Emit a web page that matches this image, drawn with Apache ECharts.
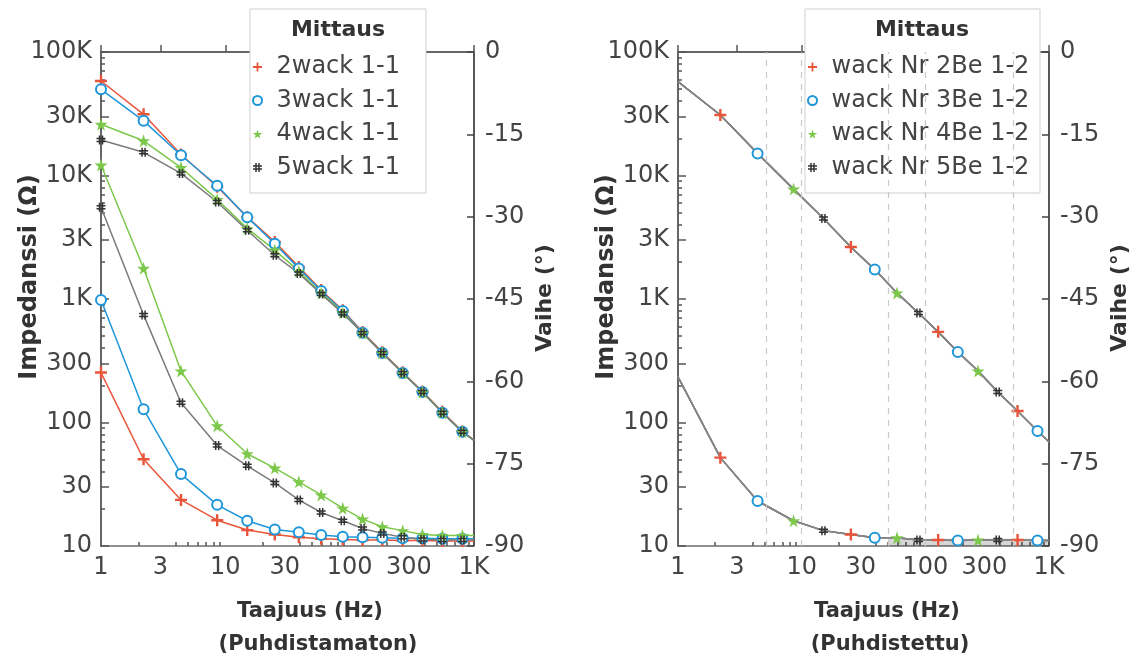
<!DOCTYPE html>
<html>
<head>
<meta charset="utf-8">
<script src="https://cdn.jsdelivr.net/npm/echarts@6/dist/echarts.min.js"></script>
<style>
  html, body { margin: 0; padding: 0; background: #fff; }
  #chart { width: 1145px; height: 662px; }
</style>
</head>
<body>
<div id="chart"></div>
<script>
// frequencies (Hz) shared by every measurement
const freq = [1, 2.2, 4.4, 8.6, 15, 25, 39, 59, 88, 127, 183, 267, 385, 557, 807, 1000]

// left panel: Puhdistamaton
const namesLeft = ['2wack 1-1', '3wack 1-1', '4wack 1-1', '5wack 1-1']
const impLeft2 = [58200, 31300, 14800, 8100, 4600, 2900, 1820, 1180, 810, 540, 370, 255, 178, 122, 84.5, 72]
const impLeft3 = [49900, 27700, 14600, 8260, 4600, 2800, 1770, 1160, 800, 532, 366, 252, 177, 120, 84, 71.8]
const impLeft4 = [26000, 19100, 11600, 6400, 3730, 2490, 1680, 1120, 775, 531, 366, 252, 177, 120, 84, 71.8]
const impLeft5 = [19400, 15400, 10400, 6100, 3600, 2260, 1610, 1100, 764, 531, 366, 252, 177, 120, 84, 71.8]
const phaseLeft2 = [-58.4, -74.2, -81.6, -85.3, -87.1, -87.9, -88.4, -88.7, -88.8, -88.9, -88.9, -89.0, -89.0, -89.1, -89.1, -89.1]
const phaseLeft3 = [-45.2, -65.1, -76.9, -82.5, -85.4, -87.0, -87.5, -88.0, -88.3, -88.4, -88.5, -88.6, -88.6, -88.7, -88.7, -88.7]
const phaseLeft4 = [-20.6, -39.4, -58.1, -68.1, -73.2, -75.8, -78.3, -80.7, -83.1, -85.1, -86.5, -87.2, -87.9, -88.1, -88.1, -88.1]
const phaseLeft5 = [-28.3, -47.9, -63.9, -71.7, -75.4, -78.5, -81.6, -83.9, -85.4, -86.8, -87.7, -88.4, -88.8, -88.9, -88.9, -88.9]

// right panel: Puhdistettu (all four measurements coincide)
const namesRight = ['wack Nr 2Be 1-2', 'wack Nr 3Be 1-2', 'wack Nr 4Be 1-2', 'wack Nr 5Be 1-2']
const impRight = [57500, 30900, 15100, 7760, 4490, 2640, 1730, 1120, 771, 542, 373, 261, 177, 124, 85.3, 69.5]
const phaseRight = [-59.2, -73.9, -81.8, -85.4, -87.2, -87.9, -88.5, -88.5, -88.9, -88.9, -89.0, -88.9, -88.9, -88.9, -89.0, -89.0]
// grey band at the bottom of the phase plot: [from Hz, to Hz], [top deg, bottom deg]
const bandFreq = [50, 1000]
const bandPhase = [-88.7, -90]
const refLines = [5.2, 10, 50, 100, 510]

// tick labels
const xLabels = [1, 3, 10, 30, 100, 300, 1000]
const yLabels = [10, 30, 100, 300, 1000, 3000, 10000, 30000, 100000]

const xMinor = []
;[1, 10, 100].forEach(d => [2, 4, 5, 6, 7, 8, 9].forEach(k => xMinor.push(d * k)))
const yMinor = []
;[10, 100, 1000, 10000].forEach(d => [2, 4, 5, 6, 7, 8, 9].forEach(k => yMinor.push(d * k)))

const RED = '#E9553B'
const BLUE = '#1E96DA'
const GREEN = '#7CC84A'
const DARK = '#333333'
const colors = [RED, BLUE, GREEN, DARK]
const lineColors = [RED, BLUE, GREEN, '#7a7a7a']

const PLUS = 'path://M4,0H6V4H10V6H6V10H4V6H0V4H4Z'
const STAR = 'path://M50,0L61,35L98,35L68,57L79,91L50,70L21,91L32,57L2,35L39,35Z'
const HASH = 'path://M3,0H5V3H7V0H9V3H12V5H9V7H12V9H9V12H7V9H5V12H3V9H0V7H3V5H0V3H3ZM5,5V7H7V5Z'
const shapes = [PLUS, 'emptyCircle', STAR, HASH]
const sizes = [12, 10, 13, 9]

const FONT = 'DejaVu Sans'
const fmt = v => v >= 1000 ? (v / 1000) + 'K' : String(v)
const pairs = (xs, ys) => xs.map((x, i) => [x, ys[i]])

function xAxes (grid) {
  return [{
    type: 'log', logBase: 10, gridIndex: grid, position: 'bottom', min: 1, max: 1000,
    axisLine: { lineStyle: { color: '#666', width: 2 } },
    axisTick: { inside: true, length: 7, customValues: xLabels, lineStyle: { color: '#555', width: 1.5 } },
    axisLabel: { customValues: xLabels, formatter: fmt, color: '#444', fontFamily: FONT, fontSize: 24, margin: 10 },
    splitLine: { show: false }
  }, {
    type: 'log', logBase: 10, gridIndex: grid, position: 'bottom', offset: 0, min: 1, max: 1000,
    axisLine: { show: false },
    axisTick: { inside: true, length: 4, customValues: xMinor, lineStyle: { color: '#555', width: 1.5 } },
    axisLabel: { show: false },
    splitLine: { show: false }
  }]
}

function yAxes (grid) {
  return [{
    type: 'log', logBase: 10, gridIndex: grid, position: 'left', min: 10, max: 100000,
    axisLine: { show: true, lineStyle: { color: '#666', width: 2 } },
    axisTick: { inside: true, length: 8, customValues: yLabels, lineStyle: { color: '#555', width: 1.5 } },
    axisLabel: { customValues: yLabels, formatter: fmt, color: '#444', fontFamily: FONT, fontSize: 24, margin: 9 },
    splitLine: { show: false }
  }, {
    type: 'value', gridIndex: grid, position: 'right', min: -90, max: 0, interval: 15,
    axisLine: { show: true, lineStyle: { color: '#444', width: 1.5 } },
    axisTick: { inside: true, length: 7, lineStyle: { color: '#444', width: 1.5 } },
    axisLabel: { color: '#444', fontFamily: FONT, fontSize: 24, margin: 11 },
    splitLine: { show: false }
  }, {
    type: 'log', logBase: 10, gridIndex: grid, position: 'left', offset: 0, min: 10, max: 100000,
    axisLine: { show: false },
    axisTick: { inside: true, length: 4, customValues: yMinor, lineStyle: { color: '#555', width: 1.5 } },
    axisLabel: { show: false },
    splitLine: { show: false }
  }]
}

const series = []
const impL = [impLeft2, impLeft3, impLeft4, impLeft5]
const phL = [phaseLeft2, phaseLeft3, phaseLeft4, phaseLeft5]
namesLeft.forEach((name, k) => {
  const base = {
    name: name,
    type: 'line',
    xAxisIndex: 0,
    showAllSymbol: true,
    symbol: (v, p) => p.dataIndex === freq.length - 1 ? 'none' : shapes[k],
    symbolSize: sizes[k],
    itemStyle: { color: colors[k], borderWidth: k === 1 ? 2 : 0 },
    lineStyle: { color: lineColors[k], width: 1.5 },
    z: 2
  }
  series.push(Object.assign({}, base, { yAxisIndex: 0, data: pairs(freq, impL[k]) }))
  series.push(Object.assign({}, base, { yAxisIndex: 1, data: pairs(freq, phL[k]) }))
})

namesRight.forEach((name, k) => {
  const base = {
    name: name,
    type: 'line',
    xAxisIndex: 2,
    showAllSymbol: true,
    symbol: (v, p) => (p.dataIndex > 0 && p.dataIndex < freq.length - 1 && (p.dataIndex - 1) % 4 === k) ? shapes[k] : 'none',
    symbolSize: sizes[k],
    itemStyle: { color: colors[k], borderWidth: k === 1 ? 2 : 0 },
    lineStyle: { color: '#858585', width: 1.5 },
    z: 2
  }
  series.push(Object.assign({}, base, { yAxisIndex: 3, data: pairs(freq, impRight) }))
  series.push(Object.assign({}, base, { yAxisIndex: 4, data: pairs(freq, phaseRight) }))
})

// reference lines and grey band, hung on the first right-panel phase series
Object.assign(series[9], {
  markLine: {
    silent: true, symbol: 'none', label: { show: false },
    lineStyle: { type: [6, 6], color: '#c8c8c8', width: 1.2 },
    data: refLines.map(v => ({ xAxis: v }))
  },
  markArea: {
    silent: true, label: { show: false },
    itemStyle: { color: 'rgba(0,0,0,0.16)' },
    data: [[{ xAxis: bandFreq[0], yAxis: bandPhase[0] }, { xAxis: bandFreq[1], yAxis: bandPhase[1] }]]
  }
})

function legend (names, left) {
  return {
    orient: 'vertical',
    left: left,
    top: 55,
    itemWidth: 22,
    itemHeight: 9,
    itemGap: 9.5,
    padding: 0,
    textStyle: { fontFamily: FONT, fontSize: 24, color: '#444', lineHeight: 24, padding: [0, 0, 0, 3] },
    data: names.map((n, k) => ({ name: n, icon: shapes[k] }))
  }
}

const boldText = { fontFamily: FONT, fontWeight: 'bold', fontSize: 21, fill: '#333' }
function label (text, x, y, rotate, size) {
  return {
    type: 'text', x: x, y: y, rotation: rotate ? Math.PI / 2 : 0, z: 10,
    style: Object.assign({}, boldText, { text: text, align: 'center', verticalAlign: 'middle', fontSize: size || 21 })
  }
}

const chart = echarts.init(document.getElementById('chart'))
chart.setOption({
  animation: false,
  backgroundColor: '#fff',
  grid: [
    { left: 101, top: 52, width: 373, height: 494, show: true, borderColor: '#222', borderWidth: 1 },
    { left: 678, top: 52, width: 371, height: 494, show: true, borderColor: '#222', borderWidth: 1 }
  ],
  xAxis: xAxes(0).concat(xAxes(1)),
  yAxis: yAxes(0).concat(yAxes(1)),
  legend: [legend(namesLeft, 252), legend(namesRight, 807)],
  graphic: [
    { type: 'rect', shape: { x: 250, y: 9, width: 176, height: 184 }, style: { fill: '#fff', stroke: '#cfcfcf', lineWidth: 1 }, z: 3 },
    { type: 'rect', shape: { x: 805, y: 9, width: 235, height: 184 }, style: { fill: '#fff', stroke: '#cfcfcf', lineWidth: 1 }, z: 3 },
    label('Mittaus', 338, 30, false, 22),
    label('Mittaus', 922, 30, false, 22),
    label('Taajuus (Hz)', 310, 612),
    label('(Puhdistamaton)', 318, 645),
    label('Taajuus (Hz)', 887, 612),
    label('(Puhdistettu)', 890, 645),
    label('Impedanssi (Ω)', 30, 277, true, 24),
    label('Impedanssi (Ω)', 607, 277, true, 24),
    label('Vaihe (°)', 545, 298, true, 22),
    label('Vaihe (°)', 1120, 298, true, 22)
  ],
  series: series
})
</script>
</body>
</html>
